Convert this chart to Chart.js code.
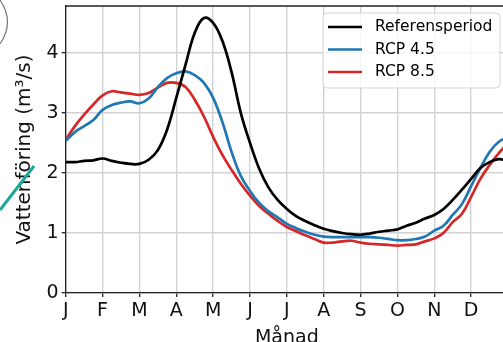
<!DOCTYPE html>
<html><head><meta charset="utf-8">
<script src="https://cdn.jsdelivr.net/npm/chart.js@4/dist/chart.umd.min.js"></script>
<style>
html,body{margin:0;padding:0;background:#fff;overflow:hidden;}
#wrap{position:relative;width:503px;height:342px;overflow:hidden;background:#fff;}
#box{position:absolute;left:0;top:0;width:516px;height:356px;}
svg{position:absolute;left:0;top:0;pointer-events:none;}
</style></head><body>
<div id="wrap"><div id="box"><canvas id="c" width="516" height="356"></canvas></div>
<svg width="503" height="342">
 <path d="M0,0 Q15,22 0,44" stroke="#777" fill="none" stroke-width="1.2"/>
 <line x1="0" y1="210" x2="34" y2="166" stroke="#1ba89b" stroke-width="3"/>
</svg></div>
<script>
const monthLabels = ['J','F','M','A','M','J','J','A','S','O','N','D'];
const months = [0,0.25,0.5,0.75,1,1.25,1.5,1.75,2,2.25,2.5,2.75,3,3.25,3.5,3.75,4,4.25,4.5,4.75,5,5.25,5.5,5.75,6,6.25,6.5,6.75,7,7.25,7.5,7.75,8,8.25,8.5,8.75,9,9.25,9.5,9.75,10,10.25,10.5,10.75,11,11.25,11.5,11.75,12];
const referens = [2.18,2.18,2.2,2.21,2.24,2.2,2.17,2.15,2.15,2.22,2.38,2.72,3.25,3.8,4.33,4.58,4.5,4.2,3.68,3.0,2.5,2.07,1.76,1.55,1.4,1.28,1.2,1.13,1.07,1.03,1.0,0.98,0.97,0.99,1.02,1.04,1.06,1.12,1.17,1.24,1.3,1.4,1.55,1.72,1.9,2.08,2.18,2.23,2.2];
const rcp45 = [2.53,2.68,2.78,2.88,3.05,3.13,3.17,3.19,3.16,3.24,3.43,3.58,3.66,3.69,3.63,3.5,3.25,2.85,2.35,1.95,1.7,1.5,1.36,1.26,1.15,1.08,1.02,0.97,0.94,0.93,0.93,0.93,0.93,0.93,0.92,0.9,0.88,0.88,0.9,0.94,1.04,1.12,1.3,1.48,1.78,2.08,2.35,2.52,2.6];
const rcp85 = [2.55,2.78,2.97,3.14,3.29,3.36,3.34,3.32,3.3,3.33,3.42,3.5,3.5,3.43,3.22,2.94,2.6,2.3,2.05,1.82,1.62,1.45,1.32,1.2,1.1,1.03,0.96,0.9,0.84,0.84,0.86,0.87,0.84,0.82,0.81,0.8,0.79,0.8,0.81,0.86,0.91,1.0,1.18,1.32,1.6,1.9,2.13,2.33,2.5];
const seriesLabels = ['Referensperiod','RCP 4.5','RCP 8.5'];
const seriesColors = ['#000000','#1f77b4','#d62728'];

const pts = arr => months.map((m,i)=>({x:m,y:arr[i]}));
const FONT = 'DejaVu Sans';

const framePlugin = {
  id:'frame',
  afterDraw(chart){
    const {ctx, chartArea:a} = chart;
    ctx.save();
    ctx.strokeStyle = '#222';
    ctx.lineWidth = 1.3;
    ctx.beginPath();
    ctx.moveTo(a.left, a.top); ctx.lineTo(a.right, a.top); ctx.lineTo(a.right, a.bottom);
    ctx.stroke();
    // legend
    const bw = 177, bh = 75;
    const x1 = a.right - 8, x0 = x1 - bw, y0 = a.top + 7, y1 = y0 + bh;
    const r = 4;
    ctx.beginPath();
    ctx.moveTo(x0+r,y0); ctx.lineTo(x1-r,y0); ctx.quadraticCurveTo(x1,y0,x1,y0+r);
    ctx.lineTo(x1,y1-r); ctx.quadraticCurveTo(x1,y1,x1-r,y1);
    ctx.lineTo(x0+r,y1); ctx.quadraticCurveTo(x0,y1,x0,y1-r);
    ctx.lineTo(x0,y0+r); ctx.quadraticCurveTo(x0,y0,x0+r,y0);
    ctx.closePath();
    ctx.fillStyle = 'rgba(255,255,255,0.8)';
    ctx.fill();
    ctx.strokeStyle = '#d6d6d6';
    ctx.lineWidth = 1;
    ctx.stroke();
    ctx.font = '15.5px "' + FONT + '"';
    ctx.textBaseline = 'middle';
    ctx.fillStyle = '#000';
    chart.data.datasets.forEach((ds,i)=>{
      const y = y0 + 14 + i*22.5;
      ctx.strokeStyle = ds.borderColor;
      ctx.lineWidth = ds.borderWidth;
      ctx.beginPath(); ctx.moveTo(x0+5,y); ctx.lineTo(x0+39,y); ctx.stroke();
      ctx.fillText(ds.label, x0+52, y);
    });
    ctx.restore();
  }
};

const gridCfg = {color:'#d2d2d2', lineWidth:1.4, tickLength:4, tickColor:'#222', tickWidth:1.3};
new Chart(document.getElementById('c'), {
  type:'line',
  data:{datasets: seriesLabels.map((lab,i)=>({
    label: lab,
    data: pts([referens,rcp45,rcp85][i]),
    borderColor: seriesColors[i],
    borderWidth: 2.7,
    pointRadius: 0,
    fill: false,
    tension: 0.4
  }))},
  options:{
    responsive:false, animation:false, devicePixelRatio:1,
    layout:{padding:{left:0, top:6, right:8, bottom:7}},
    plugins:{legend:{display:false}, tooltip:{enabled:false}},
    scales:{
      x:{
        type:'linear', min:0, max:12,
        afterFit(s){ s.height = 56; s.paddingLeft = 0; s.paddingRight = 0; },
        ticks:{stepSize:1, includeBounds:false, autoSkip:false, maxRotation:0, padding:3,
          callback:v => monthLabels[v] ?? '', font:{family:FONT, size:19}, color:'#111'},
        grid:gridCfg,
        border:{color:'#222', width:1.3},
        title:{display:true, text:'Månad', font:{family:FONT, size:19}, color:'#111', padding:{top:0, bottom:0}}
      },
      y:{
        min:0, max:4.78,
        afterFit(s){ s.width = 65.7; s.paddingTop = 0; s.paddingBottom = 0; },
        ticks:{stepSize:1, includeBounds:false, padding:3, font:{family:FONT, size:19}, color:'#111'},
        grid:gridCfg,
        border:{color:'#222', width:1.3},
        title:{display:true, text:'Vattenföring (m³/s)', font:{family:FONT, size:20}, color:'#111', padding:{top:13, bottom:0}}
      }
    }
  },
  plugins:[framePlugin]
});
</script>
</body></html>
